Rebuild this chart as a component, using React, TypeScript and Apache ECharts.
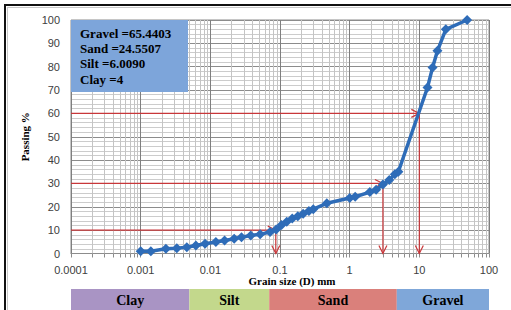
import React, { useEffect, useRef } from 'react';
import * as echarts from 'echarts';

const grainSize = [0.001, 0.0014, 0.0023, 0.0033, 0.0046, 0.0062, 0.0084, 0.012, 0.016, 0.022, 0.028, 0.038, 0.052, 0.072, 0.088, 0.105, 0.125, 0.15, 0.18, 0.215, 0.26, 0.3, 0.47, 1.0, 1.2, 1.95, 2.4, 3.0, 3.7, 4.45, 5.0, 13.1, 15.5, 18.2, 24, 48.5];
const passing = [1.0, 1.0, 2.0, 2.3, 2.7, 3.4, 4.2, 4.9, 5.6, 6.3, 7.0, 7.7, 8.2, 9.2, 10.3, 12.2, 13.6, 15.0, 16.0, 17.0, 18.2, 19.0, 21.5, 23.8, 24.3, 26.3, 27.3, 29.6, 31.5, 33.9, 35.0, 71.1, 79.7, 86.8, 96.0, 100];

const xTickLabels = ['0.0001', '0.001', '0.01', '0.1', '1', '10', '100'];
const yTickLabels = ['0', '10', '20', '30', '40', '50', '60', '70', '80', '90', '100'];

const guideLevels = [10, 30, 60];
const guideDiameters = [0.087, 3.0, 10];

const soilNames = ['Clay', 'Silt', 'Sand', 'Gravel'];
const soilStart = [0.0001, 0.005, 0.07, 4.75];
const soilEnd = [0.005, 0.07, 4.75, 100];
const soilColors = ['#A994C4', '#C3D88C', '#DA807B', '#7FA7D9'];

const fractionNames = ['Gravel', 'Sand', 'Silt', 'Clay'];
const fractionValues = ['65.4403', '24.5507', '6.0090', '4'];

const minorGridX: number[] = [];
for (let k = -4; k <= 1; k++) {
  for (let m = 2; m <= 9; m++) minorGridX.push(m * Math.pow(10, k));
}

const SERIF = '"Liberation Serif", "Times New Roman", serif';
const SANS = '"Liberation Sans", Arial, sans-serif';
const RED = '#C8373A';
const BLUE = '#2E6CB8';

export default function App() {
  const ref = useRef<HTMLDivElement>(null);
  useEffect(() => {
    if (!ref.current) return;
    const chart = echarts.init(ref.current, null, { renderer: 'svg' });
    const textY = [33.5, 48.5, 63.5, 79];
    const option: any = {
      animation: false,
      backgroundColor: '#ffffff',
      grid: [
        { left: 71, right: 22, top: 20, bottom: 56.5, show: true, borderColor: '#8c8c8c', borderWidth: 1, z: 0 },
        { left: 71, right: 22, top: 289, height: 26, z: 0 },
      ],
      xAxis: [
        {
          type: 'log',
          z: 0,
          logBase: 10,
          min: 0.0001,
          max: 100,
          splitNumber: 6,
          axisLine: { show: true, lineStyle: { color: '#8c8c8c' } },
          axisTick: { show: true, length: 4, lineStyle: { color: '#8c8c8c' } },
          axisLabel: {
            color: '#404040',
            fontSize: 11,
            fontFamily: SANS,
            margin: 11,
            formatter: (v: number) => xTickLabels[Math.round(Math.log10(v)) + 4] ?? '',
          },
          splitLine: { show: true, lineStyle: { color: '#7f7f7f' } },
        },
        { type: 'log', logBase: 10, min: 0.0001, max: 100, gridIndex: 1, show: false },
      ],
      yAxis: [
        {
          type: 'value',
          z: 0,
          min: 0,
          max: 100,
          interval: 10,
          name: 'Passing %',
          nameLocation: 'middle',
          nameGap: 26,
          nameRotate: 90,
          nameTextStyle: { fontFamily: SERIF, fontWeight: 'bold', fontSize: 11, color: '#000' },
          axisLine: { show: false },
          axisTick: { show: false },
          axisLabel: {
            color: '#404040',
            fontSize: 11,
            fontFamily: SANS,
            margin: 11,
            formatter: (v: number) => yTickLabels[Math.round(v / 10)] ?? '',
          },
          splitLine: { show: true, lineStyle: { color: '#8c8c8c' } },
          minorTick: { show: false, splitNumber: 5 },
          minorSplitLine: { show: true, lineStyle: { color: '#cccccc' } },
        },
        { type: 'value', min: 0, max: 1, gridIndex: 1, show: false },
      ],
      series: [
        {
          type: 'custom',
          silent: true,
          z: 1,
          xAxisIndex: 0,
          yAxisIndex: 0,
          data: minorGridX.map((v) => [v, 0]),
          renderItem: (params: any, api: any) => {
            const x = api.value(0);
            const top = api.coord([x, 100]);
            const bot = api.coord([x, 0]);
            const px = Math.round(top[0]) + 0.5;
            return {
              type: 'group',
              children: [
                { type: 'line', shape: { x1: px, y1: top[1], x2: px, y2: bot[1] }, style: { stroke: '#c4c4c4', lineWidth: 1 } },
                { type: 'line', shape: { x1: px, y1: bot[1], x2: px, y2: bot[1] + 4 }, style: { stroke: '#8c8c8c', lineWidth: 1 } },
              ],
            };
          },
        },
        {
          type: 'custom',
          silent: true,
          z: 20,
          xAxisIndex: 0,
          yAxisIndex: 0,
          data: guideLevels.map((p, i) => [guideDiameters[i], p]),
          renderItem: (params: any, api: any) => {
            const d = api.value(0);
            const p = api.value(1);
            const left = api.coord([0.0001, p]);
            const pt = api.coord([d, p]);
            const base = api.coord([d, 0]);
            const x = pt[0];
            const y = pt[1];
            const by = base[1];
            const st = { stroke: RED, lineWidth: 1.2, fill: 'none' };
            return {
              type: 'group',
              z2: 100,
              children: [
                { type: 'polyline', z2: 100, shape: { points: [[left[0], y], [x, y], [x, by]] }, style: st },
                { type: 'polyline', z2: 100, shape: { points: [[x - 8, y - 4], [x, y], [x - 8, y + 4]] }, style: st },
                { type: 'polyline', z2: 100, shape: { points: [[x - 4, by - 8], [x, by], [x + 4, by - 8]] }, style: st },
              ],
            };
          },
        },
        {
          type: 'line',
          z: 30,
          xAxisIndex: 0,
          yAxisIndex: 0,
          data: grainSize.map((d, i) => [d, passing[i]]),
          symbol: 'diamond',
          symbolSize: 10,
          itemStyle: { color: BLUE },
          lineStyle: { color: BLUE, width: 3.5 },
        },
        {
          type: 'custom',
          silent: true,
          xAxisIndex: 1,
          yAxisIndex: 1,
          data: soilNames.map((n, i) => [soilStart[i], soilEnd[i]]),
          renderItem: (params: any, api: any) => {
            const i = params.dataIndex;
            const a = api.coord([api.value(0), 1]);
            const b = api.coord([api.value(1), 0]);
            return {
              type: 'group',
              children: [
                { type: 'rect', shape: { x: a[0], y: a[1], width: b[0] - a[0], height: b[1] - a[1] }, style: { fill: soilColors[i] } },
                {
                  type: 'text',
                  x: (a[0] + b[0]) / 2,
                  y: (a[1] + b[1]) / 2 + 1,
                  style: {
                    text: soilNames[i],
                    font: `bold 14px ${SERIF}`,
                    fill: '#000',
                    align: 'center',
                    verticalAlign: 'middle',
                  },
                },
              ],
            };
          },
        },
      ],
      graphic: [
        { type: 'line', shape: { x1: 4, y1: 5, x2: 511, y2: 5 }, style: { stroke: '#111', lineWidth: 2 } },
        { type: 'line', shape: { x1: 5, y1: 4, x2: 5, y2: 310 }, style: { stroke: '#111', lineWidth: 2 } },
        { type: 'line', shape: { x1: 7, y1: 7.5, x2: 511, y2: 7.5 }, style: { stroke: '#c8c8c8', lineWidth: 1 } },
        { type: 'line', shape: { x1: 7.5, y1: 7, x2: 7.5, y2: 310 }, style: { stroke: '#c8c8c8', lineWidth: 1 } },
        { type: 'rect', z: 40, shape: { x: 71, y: 20, width: 117, height: 72 }, style: { fill: '#7DA5DA' } },
        ...fractionNames.map((n, i) => ({
          type: 'text',
          z: 41,
          x: 80,
          y: textY[i],
          style: {
            text: `${n} =${fractionValues[i]}`,
            font: `bold 13px ${SERIF}`,
            fill: '#000',
            verticalAlign: 'middle',
          },
        })),
        {
          type: 'text',
          x: 292,
          y: 281,
          style: {
            text: 'Grain size (D) mm',
            font: `bold 11px ${SERIF}`,
            fill: '#000',
            align: 'center',
            verticalAlign: 'middle',
          },
        },
      ],
    };
    chart.setOption(option);
    return () => chart.dispose();
  }, []);
  return (
    <div
      ref={ref}
      style={{ position: 'fixed', left: 0, top: 0, width: 511, height: 310, background: '#fff' }}
    />
  );
}
